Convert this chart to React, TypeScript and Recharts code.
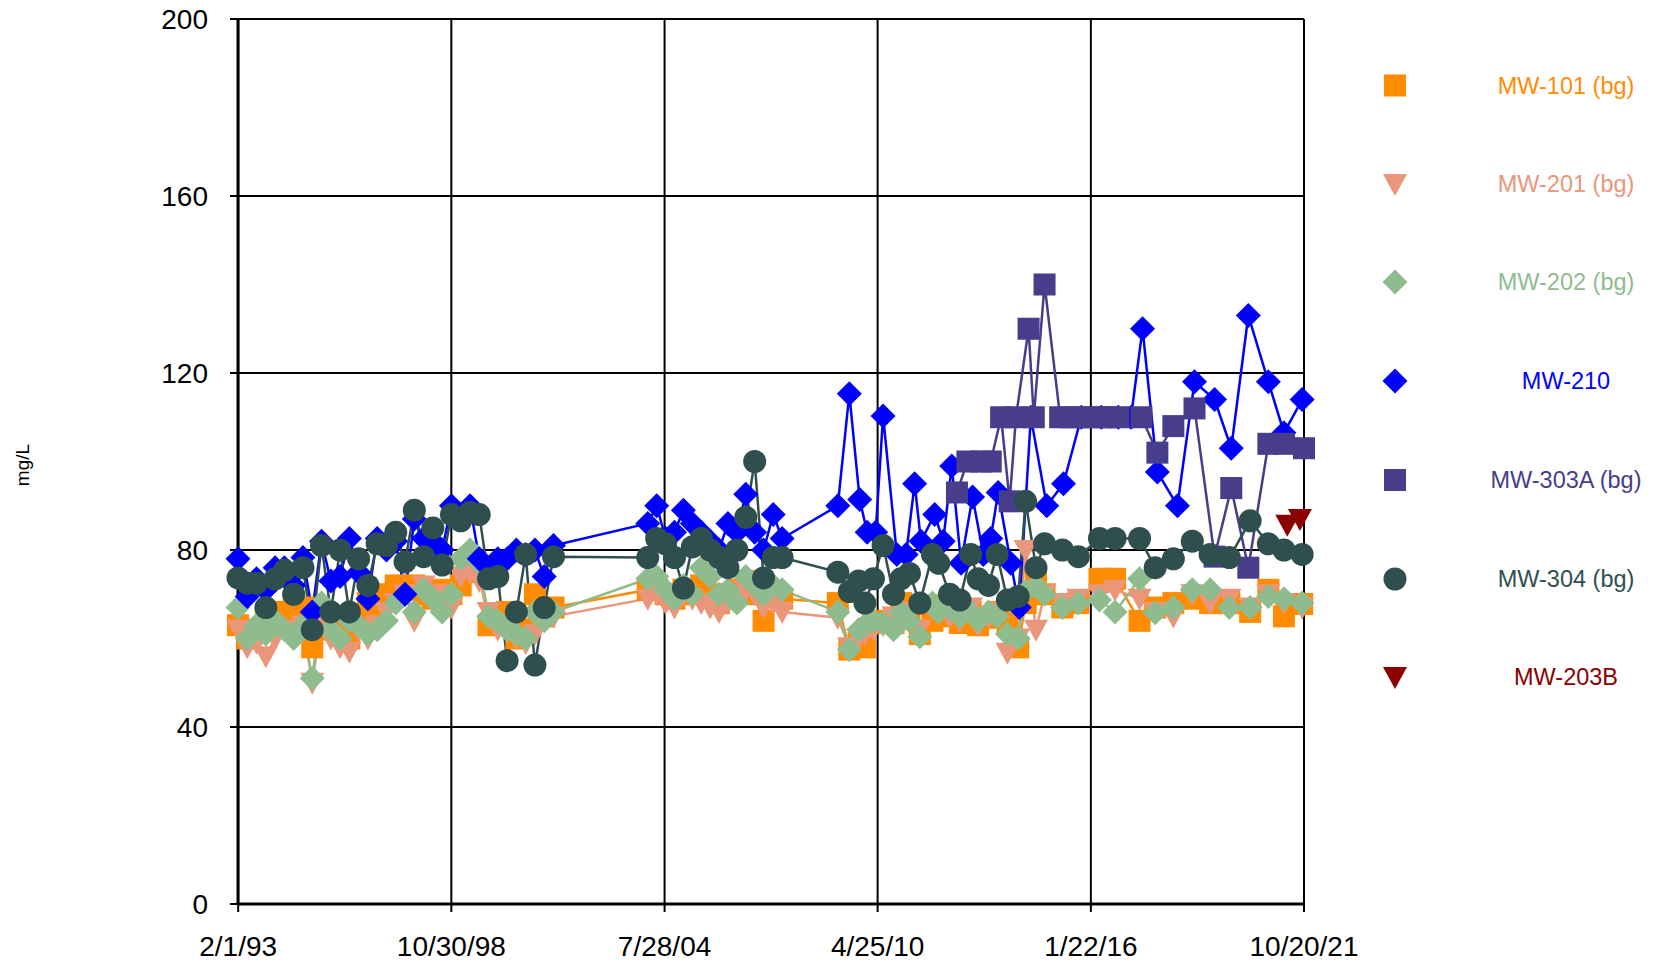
import React from 'react';
import { LineChart, Line, XAxis, YAxis, CartesianGrid } from 'recharts';

const FONT = '"Liberation Sans", Arial, Helvetica, sans-serif';

// axis ticks
const xTickLabels = ['2/1/93', '10/30/98', '7/28/04', '4/25/10', '1/22/16', '10/20/21'];
const yTicks = [0, 40, 80, 120, 160, 200];

// sampling dates in decimal years
const p1Dates = [
  1993.08, 1993.33, 1993.58, 1993.83, 1994.08, 1994.33, 1994.58, 1994.83, 1995.08, 1995.33,
  1995.58, 1995.83, 1996.08, 1996.33, 1996.58, 1996.83, 1997.08, 1997.33, 1997.58, 1997.83,
  1998.08, 1998.33, 1998.58, 1998.83, 1999.08, 1999.33, 1999.58, 1999.83, 2000.08, 2000.33,
  2000.58, 2000.83, 2001.08, 2001.33, 2001.58,
];
const p2Dates = [
  2004.12, 2004.36, 2004.6, 2004.84, 2005.08, 2005.32, 2005.56, 2005.8, 2006.04, 2006.28,
  2006.52, 2006.76, 2007.0, 2007.24, 2007.5, 2007.74,
];
const p3Dates = [
  2009.24, 2009.55, 2009.8, 2009.97, 2010.2, 2010.46, 2010.74, 2010.94, 2011.17, 2011.45,
  2011.79, 2011.96, 2012.25, 2012.53, 2012.82, 2013.02, 2013.3, 2013.53, 2013.81, 2014.1,
  2014.3, 2014.58, 2014.81, 2015.29, 2015.72, 2016.29, 2016.71, 2017.37, 2017.79, 2018.28,
  2018.79, 2019.27, 2019.79, 2020.35, 2020.84, 2021.26, 2021.75,
];
const mw210P3Dates = [
  2009.24, 2009.55, 2009.83, 2010.03, 2010.26, 2010.46, 2010.83, 2011.08, 2011.31, 2011.48,
  2011.85, 2012.08, 2012.31, 2012.56, 2012.87, 2013.16, 2013.36, 2013.56, 2013.9, 2014.13,
  2014.44, 2014.87, 2015.32, 2015.8, 2016.34, 2016.8, 2017.14, 2017.45, 2017.85, 2018.39,
  2018.85, 2019.39, 2019.84, 2020.3, 2020.84, 2021.26, 2021.75,
];
const mw303aDates = [
  2012.45, 2012.73, 2013.1, 2013.36, 2013.64, 2013.87, 2014.04, 2014.38, 2014.52, 2014.81,
  2015.23, 2015.52, 2015.8, 2016.09, 2016.34, 2016.57, 2016.8, 2017.42, 2017.85, 2018.28,
  2018.85, 2019.39, 2019.84, 2020.3, 2020.84, 2021.26, 2021.8,
];
const mw203bDates = [2021.35, 2021.69];

// MW-101 (bg)
const mw101P1 = [63, 60, 62, 64, 66, 65, 68, 67, 58, 66, 62, 64, 60, 65, 68, 66, 70, 72, 71, 72, 70, 69, 71, 70, 72, 78, 75, 63, 64, 66, 60, 62, 70, 65, 67];
const mw101P2 = [71, 72, 70, 69, 71, 70, 72, 70, 68, 70, 71, 73, 70, 64, 70, 69];
const mw101P3 = [68, 57.5, 59, 58, 63.5, 64, 63.5, 68, 66, 61, 64, 67.5, 65, 63.5, 66, 63, 64.7, 66, 63.5, 58, 68, 73.5, 70, 67, 68, 73.5, 73.5, 64, 67, 68, 69, 68, 68, 66, 71, 65, 67.8];

// MW-201 (bg)
const mw201P1 = [62, 58, 59, 56, 60, 62, 61, 63, 50, 64, 60, 58, 57, 62, 60, 63, 66, 68, 70, 64, 72, 68, 70, 67, 74, 75, 73, 66, 62, 63, 60, 59, 61, 64, 65];
const mw201P2 = [69, 70, 68, 67, 70, 69, 68, 67, 66, 68, 69, 71, 70, 67, 68, 66];
const mw201P3 = [64.7, 58, 60, 61, 62, 63, 65, 64, 66, 62, 67, 66, 65, 64, 67, 63, 65, 66, 56.8, 60, 80, 62, 70, 68, 69, 70, 71, 69, 66, 65, 70, 68, 69, 67, 70, 68, 67];

// MW-202 (bg)
const mw202P1 = [67, 60, 63, 61, 64, 62, 60, 63, 51, 68, 62, 60, 64, 63, 61, 62, 64, 68, 70, 66, 71, 69, 66, 70, 78, 80, 77, 65, 64, 62, 61, 60, 66, 64, 66];
const mw202P2 = [73.5, 74, 71, 69, 72, 70, 76, 74, 70, 71, 68, 74, 72, 70, 72, 71];
const mw202P3 = [66, 57.5, 62, 63, 64, 63.5, 62, 66, 64, 60.4, 68, 66, 67, 65, 66, 64, 66, 65, 61, 60, 70.6, 72, 70, 67, 68, 68.7, 66, 73.5, 65.8, 67, 71, 71, 67, 67, 69.5, 69, 68];

// MW-210
const mw210P1 = [78, 69.5, 73.5, 71, 76, 76, 72, 78.3, 66, 82, 73, 74, 82.6, 75, 69, 82.6, 80, 82, 70, 87, 82.6, 82, 80, 90, 88, 90, 78, 76, 78, 78, 80, 79, 80, 74, 81];
const mw210P2 = [86, 90, 82.6, 84, 89, 86, 84, 82, 80, 86, 84, 92.6, 84, 80, 88, 82.6];
const mw210P3 = [90, 115.3, 91.4, 84, 84, 110.3, 79, 79, 95, 82, 88, 82, 99, 77, 92, 79, 82.6, 93, 77, 67, 110, 90, 95, 110, 110, 110, 110, 130, 97.6, 90, 118, 114, 103, 133, 118, 106.5, 114];

// MW-303A (bg)
const mw303aValues = [93, 100, 100, 100, 110, 91, 110, 130, 110, 140, 110, 110, 110, 110, 110, 110, 110, 110, 102, 108, 112, 78.5, 94, 76, 104, 104, 103];

// MW-304 (bg)
const mw304P1 = [73.7, 72.5, 72.5, 67, 73.5, 75.4, 70, 76, 62, 81, 66, 80, 66, 78, 72, 81.4, 81, 84, 77.3, 89, 78.5, 85, 76.6, 88, 86.6, 88.5, 88, 73.5, 74, 55, 66, 79, 54, 67, 78.5];
const mw304P2 = [78.3, 82.6, 81.4, 78.3, 71.4, 80.7, 82.6, 80, 78.3, 76, 80, 87.4, 100, 73.7, 78.3, 78.3];
const mw304P3 = [75, 70.6, 73, 68, 73.5, 81, 70, 73.5, 74.7, 68, 79, 77, 70, 68.7, 79, 73.5, 72, 79, 68.7, 69.5, 91, 76, 81.4, 80, 78.5, 82.6, 82.6, 82.6, 76, 78, 82, 79, 78.3, 86.6, 81.4, 80, 79];

// MW-203B
const mw203bValues = [85.7, 87];

const toYear = (label: string) => {
  const [m, d, yy] = label.split('/').map(Number);
  const y = yy < 50 ? 2000 + yy : 1900 + yy;
  const doy = (Date.UTC(y, m - 1, d) - Date.UTC(y, 0, 1)) / 86400000;
  return y + doy / 365;
};
const xTicks = xTickLabels.map(toYear);

const rows = (xs: number[], ys: number[]) => xs.map((x, i) => ({ x, y: ys[i] }));
const allDates = [...p1Dates, ...p2Dates, ...p3Dates];

type Shape = 'square' | 'triDown' | 'diamond' | 'circle';

const series: { name: string; color: string; shape: Shape; data: { x: number; y: number }[] }[] = [
  { name: 'MW-101 (bg)', color: '#FF8C00', shape: 'square', data: rows(allDates, [...mw101P1, ...mw101P2, ...mw101P3]) },
  { name: 'MW-201 (bg)', color: '#E9967A', shape: 'triDown', data: rows(allDates, [...mw201P1, ...mw201P2, ...mw201P3]) },
  { name: 'MW-202 (bg)', color: '#8FBC8F', shape: 'diamond', data: rows(allDates, [...mw202P1, ...mw202P2, ...mw202P3]) },
  { name: 'MW-210', color: '#0000FF', shape: 'diamond', data: rows([...p1Dates, ...p2Dates, ...mw210P3Dates], [...mw210P1, ...mw210P2, ...mw210P3]) },
  { name: 'MW-303A (bg)', color: '#483D8B', shape: 'square', data: rows(mw303aDates, mw303aValues) },
  { name: 'MW-304 (bg)', color: '#2F4F4F', shape: 'circle', data: rows(allDates, [...mw304P1, ...mw304P2, ...mw304P3]) },
  { name: 'MW-203B', color: '#8B0000', shape: 'triDown', data: rows(mw203bDates, mw203bValues) },
];

const Marker = ({ shape, x, y, color }: { shape: Shape; x: number; y: number; color: string }) => {
  if (shape === 'square') return <rect x={x - 11} y={y - 11} width={22} height={22} fill={color} />;
  if (shape === 'circle') return <circle cx={x} cy={y} r={11.5} fill={color} />;
  if (shape === 'diamond')
    return <polygon points={`${x},${y - 12.5} ${x + 12.5},${y} ${x},${y + 12.5} ${x - 12.5},${y}`} fill={color} />;
  return <polygon points={`${x - 12},${y - 10} ${x + 12},${y - 10} ${x},${y + 12}`} fill={color} />;
};

const makeDot = (shape: Shape, color: string) => (p: any) => {
  if (p.cx == null || p.cy == null) return <g key={p.index} />;
  return (
    <g key={p.index}>
      <Marker shape={shape} x={p.cx} y={p.cy} color={color} />
    </g>
  );
};

const legendRows = [85.5, 184, 282, 381, 480, 579, 677];

export default function App() {
  return (
    <div style={{ position: 'absolute', left: 0, top: 0, width: 1658, height: 964, background: '#fff' }}>
      <LineChart width={1658} height={964} margin={{ top: 19, right: 354, bottom: 0, left: 158 }}>
        <CartesianGrid stroke="#000" strokeWidth={2} />
        <XAxis
          dataKey="x"
          type="number"
          domain={[xTicks[0], xTicks[xTicks.length - 1]]}
          ticks={xTicks}
          interval={0}
          height={60}
          tickSize={8}
          tickMargin={24}
          tickFormatter={(v: number) => xTickLabels[xTicks.indexOf(v)] ?? ''}
          tick={{ fontSize: 28, fill: '#000', fontFamily: FONT }}
          axisLine={{ stroke: '#000', strokeWidth: 3 }}
          tickLine={{ stroke: '#000', strokeWidth: 2 }}
          allowDuplicatedCategory={false}
        />
        <YAxis
          type="number"
          domain={[0, 200]}
          ticks={yTicks}
          interval={0}
          width={80}
          tickSize={8}
          tickMargin={22}
          tick={{ fontSize: 28, fill: '#000', fontFamily: FONT }}
          axisLine={{ stroke: '#000', strokeWidth: 3 }}
          tickLine={{ stroke: '#000', strokeWidth: 2 }}
        />
        {series.map((s) => (
          <Line
            key={s.name}
            data={s.data}
            dataKey="y"
            name={s.name}
            type="linear"
            stroke={s.color}
            strokeWidth={2.5}
            dot={makeDot(s.shape, s.color)}
            activeDot={false}
            isAnimationActive={false}
          />
        ))}
      </LineChart>

      <svg width={1658} height={964} style={{ position: 'absolute', left: 0, top: 0, pointerEvents: 'none' }}>
        <text
          x={22}
          y={465}
          transform="rotate(-90 22 465)"
          textAnchor="middle"
          dominantBaseline="central"
          fontSize={19}
          fontFamily={FONT}
          fill="#000"
        >
          mg/L
        </text>
        {series.map((s, i) => (
          <g key={s.name}>
            <Marker shape={s.shape} x={1395} y={legendRows[i]} color={s.color} />
            <text
              x={1566}
              y={legendRows[i]}
              textAnchor="middle"
              dominantBaseline="central"
              fontSize={23.5}
              fontFamily={FONT}
              fill={s.color}
            >
              {s.name}
            </text>
          </g>
        ))}
      </svg>
    </div>
  );
}
